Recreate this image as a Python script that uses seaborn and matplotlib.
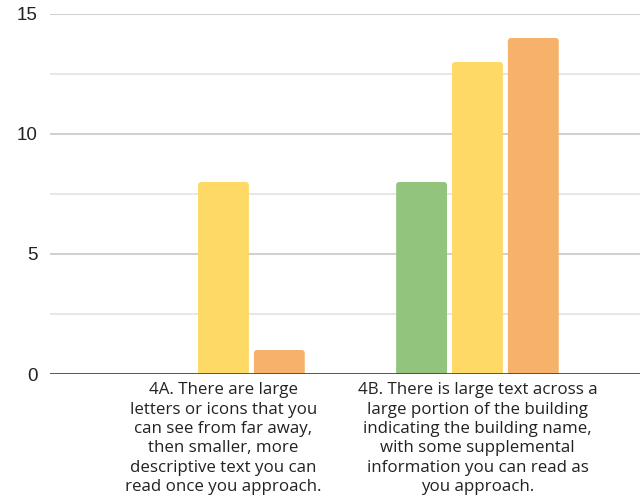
import pandas as pd
import matplotlib.pyplot as plt
import seaborn as sns
from matplotlib.ticker import MultipleLocator
from matplotlib.patches import FancyBboxPatch

categories = [
    "4A. There are large\nletters or icons that you\ncan see from far away,\nthen smaller, more\ndescriptive text you can\nread once you approach.",
    "4B. There is large text across a\nlarge portion of the building\nindicating the building name,\nwith some supplemental\ninformation you can read as\nyou approach.",
]
series = ["Green", "Yellow", "Orange"]
green_values = [0, 8]
yellow_values = [8, 13]
orange_values = [1, 14]
colors = ["#93c47d", "#ffd966", "#f6b26b"]

rows = []
for name, vals in zip(series, [green_values, yellow_values, orange_values]):
    for cat, v in zip(categories, vals):
        rows.append({"category": cat, "series": name, "value": v})
df = pd.DataFrame(rows)

sns.set_style("white")
plt.rcParams["font.family"] = ["Liberation Sans", "DejaVu Sans"]

fig = plt.figure(figsize=(6.4, 4.98), dpi=100)
ax = fig.add_axes([50 / 640, 1 - 374 / 498, 1 - 50 / 640, 360 / 498])

sns.barplot(data=df, x="category", y="value", hue="series", order=categories,
            hue_order=series, palette=colors, saturation=1, width=0.66, gap=0.09,
            legend=False, ax=ax, zorder=3)

ax.set_ylim(0, 15)
ax.set_xlim(-0.683, 1.64)

# swap plain bars for ones with slightly rounded corners
for bar in list(ax.patches):
    x, y = bar.get_x(), bar.get_y()
    w, h = bar.get_width(), bar.get_height()
    if h <= 0:
        bar.remove()
        continue
    rounded = FancyBboxPatch((x, y - 0.3), w, h + 0.3,
                             boxstyle="round,pad=0,rounding_size=0.012",
                             mutation_aspect=10.6, facecolor=bar.get_facecolor(),
                             edgecolor="none", zorder=3)
    bar.remove()
    ax.add_patch(rounded)

ax.yaxis.set_major_locator(MultipleLocator(5))
ax.yaxis.set_minor_locator(MultipleLocator(2.5))
ax.grid(axis="y", which="major", color="#cccccc", linewidth=1.3, zorder=0)
ax.grid(axis="y", which="minor", color="#e5e5e5", linewidth=1.3, zorder=0)
ax.set_axisbelow(True)
ax.axhline(0, color="#333333", linewidth=1.8, zorder=4)

for side in ["top", "right", "left", "bottom"]:
    ax.spines[side].set_visible(False)

ax.set_xlabel("")
ax.set_ylabel("")
ax.tick_params(axis="y", which="both", length=0, pad=9, labelsize=13.5, labelcolor="#222222")
ax.tick_params(axis="x", length=0, pad=6)
for lbl in ax.get_xticklabels():
    lbl.set_fontfamily(["Open Sans", "DejaVu Sans"])
    lbl.set_fontsize(12.2)
    lbl.set_linespacing(1.28)
    lbl.set_color("#222222")
    lbl.set_horizontalalignment("center")
    lbl.set_verticalalignment("top")

fig.savefig("out.png", dpi=100)
